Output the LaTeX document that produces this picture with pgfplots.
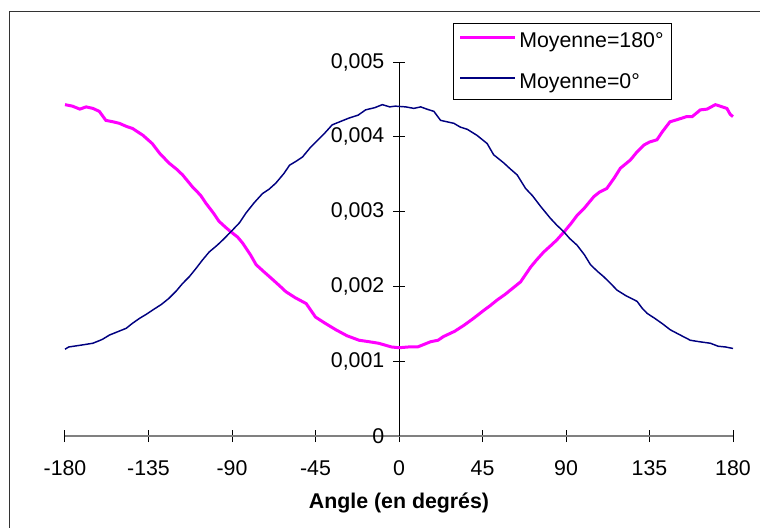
\documentclass[border=0pt]{standalone}
\usepackage{fontspec}
\setmainfont{Liberation Sans}
\usepackage{pgfplots}
\pgfplotsset{compat=1.18}
\definecolor{mag}{RGB}{255,0,255}
\definecolor{nav}{RGB}{0,0,128}
\begin{document}
\begin{tikzpicture}
\begin{axis}[
 scale only axis, width=501pt, height=280.5pt,
 xmin=-180, xmax=180, ymin=0, ymax=0.005,
 axis lines=middle,
 axis line style={-},
 x axis line style={draw=gray, line width=1.5pt},
 y axis line style={draw=black, line width=0.75pt},
 hide obscured x ticks=false, hide obscured y ticks=false,
 xtick={-180,-135,-90,-45,0,45,90,135,180},
 xticklabels={-180,-135,-90,-45,0,45,90,135,180},
 ytick={0,0.001,0.002,0.003,0.004,0.005},
 yticklabels={0,{0,001},{0,002},{0,003},{0,004},{0,005}},
 scaled y ticks=false,
 tick align=center, major tick length=9pt,
 tick style={black, line width=0.75pt},
 font=\fontsize{16}{19}\selectfont,
 xticklabel style={anchor=north, yshift=-10.5pt},
 yticklabel style={anchor=east, xshift=-3pt},
 xlabel={\bfseries Angle (en degrés)},
 xlabel style={at={(axis description cs:0.5,0)}, anchor=center, yshift=-50pt},
 legend style={at={(axis description cs:0.581,1.105)}, anchor=north west, draw=black, line width=0.75pt, inner xsep=4pt, inner ysep=5pt, row sep=14pt, font=\fontsize{16}{19}\selectfont},
 legend cell align=left,
 legend image code/.code={\draw[#1] (0pt,0.3em) -- (41pt,0.3em);},
 clip=false,
]
\coordinate (O) at (rel axis cs:0,0);
\addplot[mag, line width=2.25pt] coordinates {
(-180,0.00443) (-176,0.00441) (-172,0.00437) (-168.6,0.00440) (-165,0.00438) (-161.5,0.00434)
(-158,0.00422) (-154,0.00420) (-150.7,0.00418) (-147,0.00414) (-143.5,0.00411) (-138,0.00402)
(-133,0.00391) (-129,0.00378) (-124,0.00365) (-120,0.00357) (-116.6,0.00349) (-111.3,0.00333)
(-107,0.00322) (-104,0.00311) (-100,0.00298) (-97,0.00287) (-93,0.00278) (-90.6,0.00273)
(-87,0.00266) (-84.3,0.00258) (-80,0.00242) (-77,0.00229) (-73,0.00220) (-68,0.00209)
(-64,0.00200) (-61,0.00193) (-56,0.00185) (-50,0.00177) (-45,0.00159) (-40,0.00151)
(-34,0.00142) (-28,0.00134) (-21.5,0.00128) (-16,0.00126) (-11,0.00124) (-4,0.00119)
(0,0.00118) (5,0.00119) (10,0.00119) (14,0.00123) (17,0.00126) (21,0.00128)
(24,0.00133) (30,0.00140) (35,0.00148) (40,0.00157) (45.7,0.00168) (49,0.00174)
(53,0.00182) (57,0.00189) (60,0.00195) (65.5,0.00206) (71,0.00226) (74,0.00235)
(78,0.00246) (82,0.00255) (85,0.00262) (89,0.00273) (93,0.00285) (96,0.00295)
(100,0.00305) (105,0.00320) (108,0.00326) (112,0.00331) (116,0.00345) (119.3,0.00358)
(124.7,0.00369) (128,0.00379) (132,0.00389) (135,0.00393) (139,0.00396) (142,0.00407)
(146,0.00420) (150,0.00423) (155,0.00427) (158,0.00427) (162.4,0.00436) (166,0.00437)
(170.5,0.00443) (173,0.00441) (176.7,0.00438) (178.5,0.00430) (180,0.00427)
};
\addlegendentry{Moyenne=180°}
\addplot[nav, line width=1.1pt] coordinates {
(-180,0.00116) (-178,0.00119) (-170,0.00122) (-165,0.00124) (-160,0.00129) (-156,0.00135)
(-153,0.00138) (-147,0.00144) (-144,0.00150) (-140,0.00157) (-136,0.00163) (-133,0.00168)
(-128,0.00176) (-124,0.00184) (-120,0.00194) (-116.6,0.00204) (-113,0.00213) (-109.4,0.00224)
(-106,0.00235) (-102.3,0.00246) (-98,0.00255) (-95,0.00262) (-90.6,0.00273) (-86,0.00285)
(-82.5,0.00298) (-78,0.00312) (-73.6,0.00324) (-70,0.00330) (-66.4,0.00338) (-62,0.00351)
(-59,0.00362) (-55,0.00368) (-52,0.00373) (-48,0.00385) (-44.8,0.00393) (-40,0.00405)
(-36,0.00416) (-31,0.00421) (-27,0.00425) (-22,0.00429) (-18,0.00436) (-13,0.00439)
(-9,0.00443) (-5,0.00440) (-2,0.00441) (3.6,0.00440) (8,0.00438) (11.7,0.00440)
(15,0.00437) (18.8,0.00434) (22.4,0.00422) (26,0.00420) (29.6,0.00418) (33,0.00413)
(36.8,0.00410) (42,0.00402) (47.5,0.00391) (51,0.00376) (56.5,0.00365) (60,0.00357)
(63.7,0.00349) (68.2,0.00331) (72,0.00321) (76.3,0.00307) (81.6,0.00291) (85,0.00282)
(88.8,0.00273) (92,0.00264) (96,0.00255) (100,0.00242) (103.2,0.00229) (107,0.00220)
(110.3,0.00213) (114,0.00204) (117.5,0.00195) (122,0.00188) (128.3,0.00180) (131,0.00171)
(133.7,0.00164) (138,0.00157) (142,0.00150) (146.2,0.00142) (150,0.00137) (157,0.00128)
(162,0.00126) (167.8,0.00124) (172,0.00120) (176,0.00119) (180,0.00117)
};
\addlegendentry{Moyenne=0°}
\end{axis}
\pgfresetboundingbox
\path[use as bounding box] ([shift={(-48.75pt,-69pt)}]O) rectangle ([shift={(521.25pt,327pt)}]O);
\draw[black!80, line width=0.75pt] ([shift={(-41.25pt,-80pt)}]O) -- ([shift={(-41.25pt,318pt)}]O) -- ([shift={(530pt,318pt)}]O);
\end{tikzpicture}
\end{document}
